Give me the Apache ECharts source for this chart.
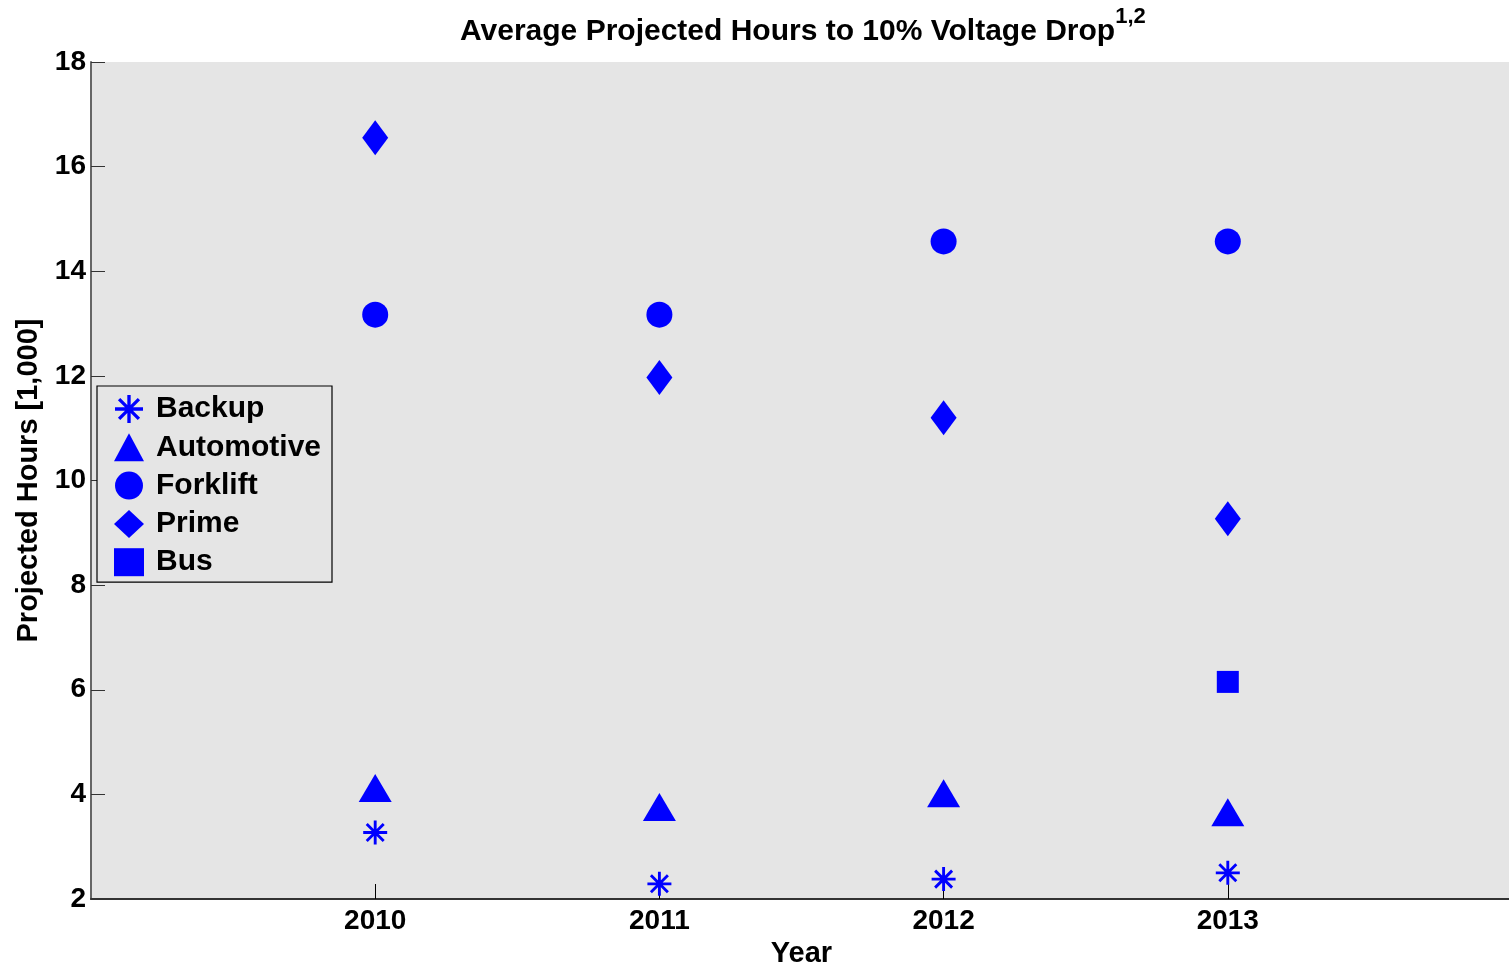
<!DOCTYPE html>
<html>
<head>
<meta charset="utf-8">
<script src="https://cdn.jsdelivr.net/npm/echarts@6/dist/echarts.min.js"></script>
<style>
  html, body { margin: 0; padding: 0; background: #fff; }
  #chart { width: 1509px; height: 966px; }
</style>
</head>
<body>
<div id="chart"></div>
<script>
// years on x axis
const years = [2010, 2011, 2012, 2013];
const yTicks = [2, 4, 6, 8, 10, 12, 14, 16, 18];

// projected hours [1,000] per category
const backup     = [3.27, 2.29, 2.38, 2.50];
const automotive = [4.12, 3.76, 4.02, 3.66];
const forklift   = [13.17, 13.17, 14.57, 14.57];
const prime      = [16.55, 11.97, 11.20, 9.27];
const bus        = [null, null, null, 6.15];

const FONT = 'Liberation Sans, Arial, sans-serif';
const BLUE = '#0000ff';

// asterisk marker made of four filled bars
const asterisk = 'path://M44 0L56 0L56 100L44 100Z M0 44L100 44L100 56L0 56Z ' +
  'M18.8 10.4L89.6 81.2L81.2 89.6L10.4 18.8Z M81.2 10.4L89.6 18.8L18.8 89.6L10.4 81.2Z';

const pairs = (vals) => years.map((y, i) => [y, vals[i]]).filter(p => p[1] != null);

const seriesDefs = [
  { name: 'Backup', data: backup, symbol: asterisk, size: 24 },
  { name: 'Automotive', data: automotive, symbol: 'triangle', size: [33, 28] },
  { name: 'Forklift', data: forklift, symbol: 'circle', size: 26 },
  { name: 'Prime', data: prime, symbol: 'diamond', size: [26, 35] },
  { name: 'Bus', data: bus, symbol: 'rect', size: 22 }
];

const chart = echarts.init(document.getElementById('chart'));
chart.setOption({
  animation: false,
  backgroundColor: '#fff',
  title: {
    text: '{t|Average Projected Hours to 10% Voltage Drop}{s|1,2}',
    left: 455,
    top: 0,
    textStyle: {
      rich: {
        t: { fontFamily: FONT, fontWeight: 'bold', fontSize: 30, color: '#000', lineHeight: 40, padding: [14, 0, 0, 0] },
        s: { fontFamily: FONT, fontWeight: 'bold', fontSize: 22, color: '#000', lineHeight: 40, padding: [0, 0, 16, 0] }
      }
    }
  },
  grid: {
    left: 91, top: 62, right: -3, bottom: 67,
    outerBoundsMode: 'none', containLabel: false,
    show: true, backgroundColor: '#e5e5e5', borderWidth: 0
  },
  legend: {
    orient: 'vertical',
    left: 97,
    top: 386,
    padding: [8, 11, 5, 17],
    itemGap: 8.3,
    itemWidth: 30,
    itemHeight: 28,
    backgroundColor: '#e5e5e5',
    borderColor: '#000',
    borderWidth: 1.2,
    borderRadius: 0,
    textStyle: { fontFamily: FONT, fontWeight: 'bold', fontSize: 30, color: '#000', padding: [0, 0, 0, 7] },
    data: seriesDefs.map(s => s.name)
  },
  xAxis: {
    type: 'value',
    min: 2009,
    max: 2014,
    interval: 1,
    name: 'Year',
    nameLocation: 'middle',
    nameGap: 37,
    nameTextStyle: { fontFamily: FONT, fontWeight: 'bold', fontSize: 29, color: '#000' },
    splitLine: { show: false },
    axisLine: { onZero: false, lineStyle: { color: '#333', width: 2 } },
    axisTick: { inside: true, length: 15, customValues: years, lineStyle: { color: '#000', width: 1 } },
    axisLabel: { customValues: years, margin: 8, fontFamily: FONT, fontWeight: 'bold', fontSize: 28, color: '#000', formatter: v => String(v) }
  },
  yAxis: {
    type: 'value',
    min: 2,
    max: 18,
    interval: 2,
    name: 'Projected Hours [1,000]',
    nameLocation: 'middle',
    nameGap: 48,
    nameTextStyle: { fontFamily: FONT, fontWeight: 'bold', fontSize: 29, color: '#000' },
    splitLine: { show: false },
    axisLine: { show: true, onZero: false, lineStyle: { color: '#666', width: 2 } },
    axisTick: { show: true, inside: true, length: 14, lineStyle: { color: '#333', width: 1 } },
    axisLabel: { margin: 5, fontFamily: FONT, fontWeight: 'bold', fontSize: 28, color: '#000' }
  },
  series: seriesDefs.map(s => ({
    name: s.name,
    type: 'scatter',
    data: pairs(s.data),
    symbol: s.symbol,
    symbolSize: s.size,
    itemStyle: { color: BLUE, opacity: 1 },
    emphasis: { disabled: true }
  }))
});
</script>
</body>
</html>
